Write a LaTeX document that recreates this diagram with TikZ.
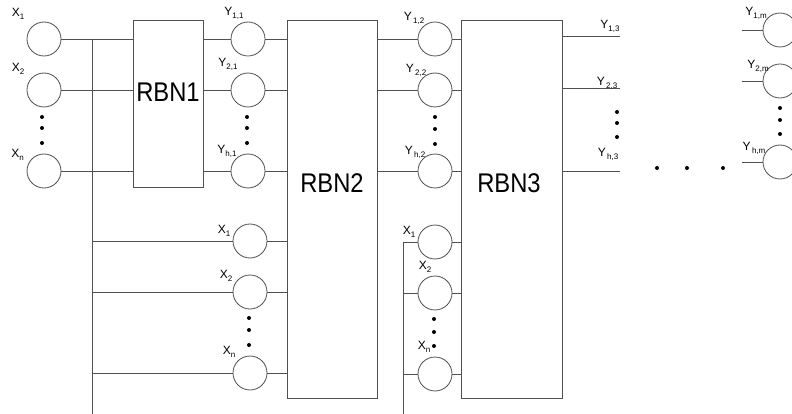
\documentclass[tikz,border=0pt]{standalone}
\usepackage{fontspec}
\setmainfont{Liberation Sans}
\usetikzlibrary{positioning,calc}
\definecolor{WireGray}{RGB}{80,80,80}
\newcommand{\sublbl}[2]{#1\raisebox{-0.5ex}{\fontsize{8}{8}\selectfont #2}}
\newcommand{\rbnname}[1]{\scalebox{0.88}[1]{#1}}

\begin{document}
\begin{tikzpicture}[x=1pt,y=-1pt,
  neuron/.style={circle,draw=WireGray,line width=0.8pt,fill=white,minimum size=34pt,inner sep=0pt},
  rbn/.style={rectangle,draw=WireGray,line width=0.8pt,inner sep=0pt},
  wire/.style={WireGray,line width=0.8pt},
  tag/.style={font=\fontsize{12}{12}\selectfont,inner sep=0pt},
  big/.style={font=\fontsize{27}{27}\selectfont,inner sep=0pt},
  dot/.style={circle,fill=black,inner sep=0pt,minimum size=4pt}]
  \useasboundingbox (0,0) rectangle (792,414);

  % reservoir boxes
  \node[rbn,minimum width=70pt,minimum height=167pt] (rbn1) at (168,103.5) {};
  \node[rbn,minimum width=90pt,minimum height=378pt] (rbn2) at (332,209) {};
  \node[rbn,minimum width=101pt,minimum height=378pt] (rbn3) at (511.5,209) {};
  \node[big] (rbn1name) at (168,92) {\rbnname{RBN1}};
  \node[big] (rbn2name) at (332,183) {\rbnname{RBN2}};
  \node[big] (rbn3name) at (509,183) {\rbnname{RBN3}};

  % bus lines
  \coordinate (bus1) at (92,414);
  \coordinate (bus2) at (403,414);

  % neuron columns
  \foreach \i/\y in {1/39,2/90,3/171} {
    \node[neuron] (xa\i) at (44,\y) {};
    \node[neuron] (ya\i) at (248,\y) {};
    \node[neuron] (yb\i) at (435,\y) {};
  }
  \foreach \i/\y in {1/241,2/292,3/373} {
    \node[neuron] (xb\i) at (250,\y) {};
    \node[neuron] (xc\i) at (435,\y+1) {};
  }
  \foreach \i/\y in {1/30,2/81,3/162} {
    \node[neuron] (ym\i) at (780,\y) {};
    \coordinate (ymin\i) at (742,\y);
  }
  \foreach \i/\y in {1/36,2/88,3/171}
    \coordinate (out\i) at (620,\y);

  \draw[wire] (xa1.east -| bus1) -- (bus1);
  \draw[wire] (xc1.west -| bus2) -- (bus2);
  \foreach \i in {1,2,3} {
    \draw[wire] (xa\i.east) -- (xa\i.east -| rbn1.west);
    \draw[wire] (rbn1.east |- ya\i) -- (ya\i.west);
    \draw[wire] (ya\i.east) -- (ya\i.east -| rbn2.west);
    \draw[wire] (xb\i.west -| bus1) -- (xb\i.west);
    \draw[wire] (xb\i.east) -- (xb\i.east -| rbn2.west);
    \draw[wire] (rbn2.east |- yb\i) -- (yb\i.west);
    \draw[wire] (yb\i.east) -- (yb\i.east -| rbn3.west);
    \draw[wire] (xc\i.west -| bus2) -- (xc\i.west);
    \draw[wire] (xc\i.east) -- (xc\i.east -| rbn3.west);
    \draw[wire] (rbn3.east |- out\i) -- (out\i);
    \draw[wire] (ymin\i) -- (ymin\i -| ym\i.west);
  }

  % labels
  \node[tag] (lxa1) at (18,14) {\sublbl{X}{1}};
  \node[tag] (lxa2) at (18,69) {\sublbl{X}{2}};
  \node[tag] (lxa3) at (17.5,155) {\sublbl{X}{n}};
  \node[tag] (lya1) at (234,13) {\sublbl{Y}{1,1}};
  \node[tag] (lya2) at (228,64) {\sublbl{Y}{2,1}};
  \node[tag] (lya3) at (227,151) {\sublbl{Y}{h,1}};
  \node[tag] (lxb1) at (224,231) {\sublbl{X}{1}};
  \node[tag] (lxb2) at (226,276) {\sublbl{X}{2}};
  \node[tag] (lxb3) at (229,352) {\sublbl{X}{n}};
  \node[tag] (lyb1) at (414,18) {\sublbl{Y}{\,1,2}};
  \node[tag] (lyb2) at (416,70) {\sublbl{Y}{\,2,2}};
  \node[tag] (lyb3) at (415,152) {\sublbl{Y}{\,h,2}};
  \node[tag] (lxc1) at (409,232) {\sublbl{X}{1}};
  \node[tag] (lxc2) at (425,267) {\sublbl{X}{2}};
  \node[tag] (lxc3) at (424,347) {\sublbl{X}{n}};
  \node[tag] (lout1) at (610,26) {\sublbl{Y}{1,3}};
  \node[tag] (lout2) at (607,83) {\sublbl{Y}{\,2,3}};
  \node[tag] (lout3) at (608,154) {\sublbl{Y}{\,h,3}};
  \node[tag] (lym1) at (756,13) {\sublbl{Y}{1,m}};
  \node[tag] (lym2) at (758,66) {\sublbl{Y}{2,m}};
  \node[tag] (lym3) at (754,148) {\sublbl{Y}{\,h,m}};

  % ellipsis dots
  \foreach \x/\a/\b/\c [count=\k] in {42/117/128/143, 247/117/128/143, 249/318/330/345,
      435/117/129/144, 434/319/332/346, 617/112/123/137, 780/108/120/134} {
    \node[dot] (va\k) at (\x,\a) {};
    \node[dot] (vb\k) at (\x,\b) {};
    \node[dot] (vc\k) at (\x,\c) {};
  }
  \foreach \x [count=\k] in {657,687,723}
    \node[dot] (h\k) at (\x,168) {};
\end{tikzpicture}
\end{document}
